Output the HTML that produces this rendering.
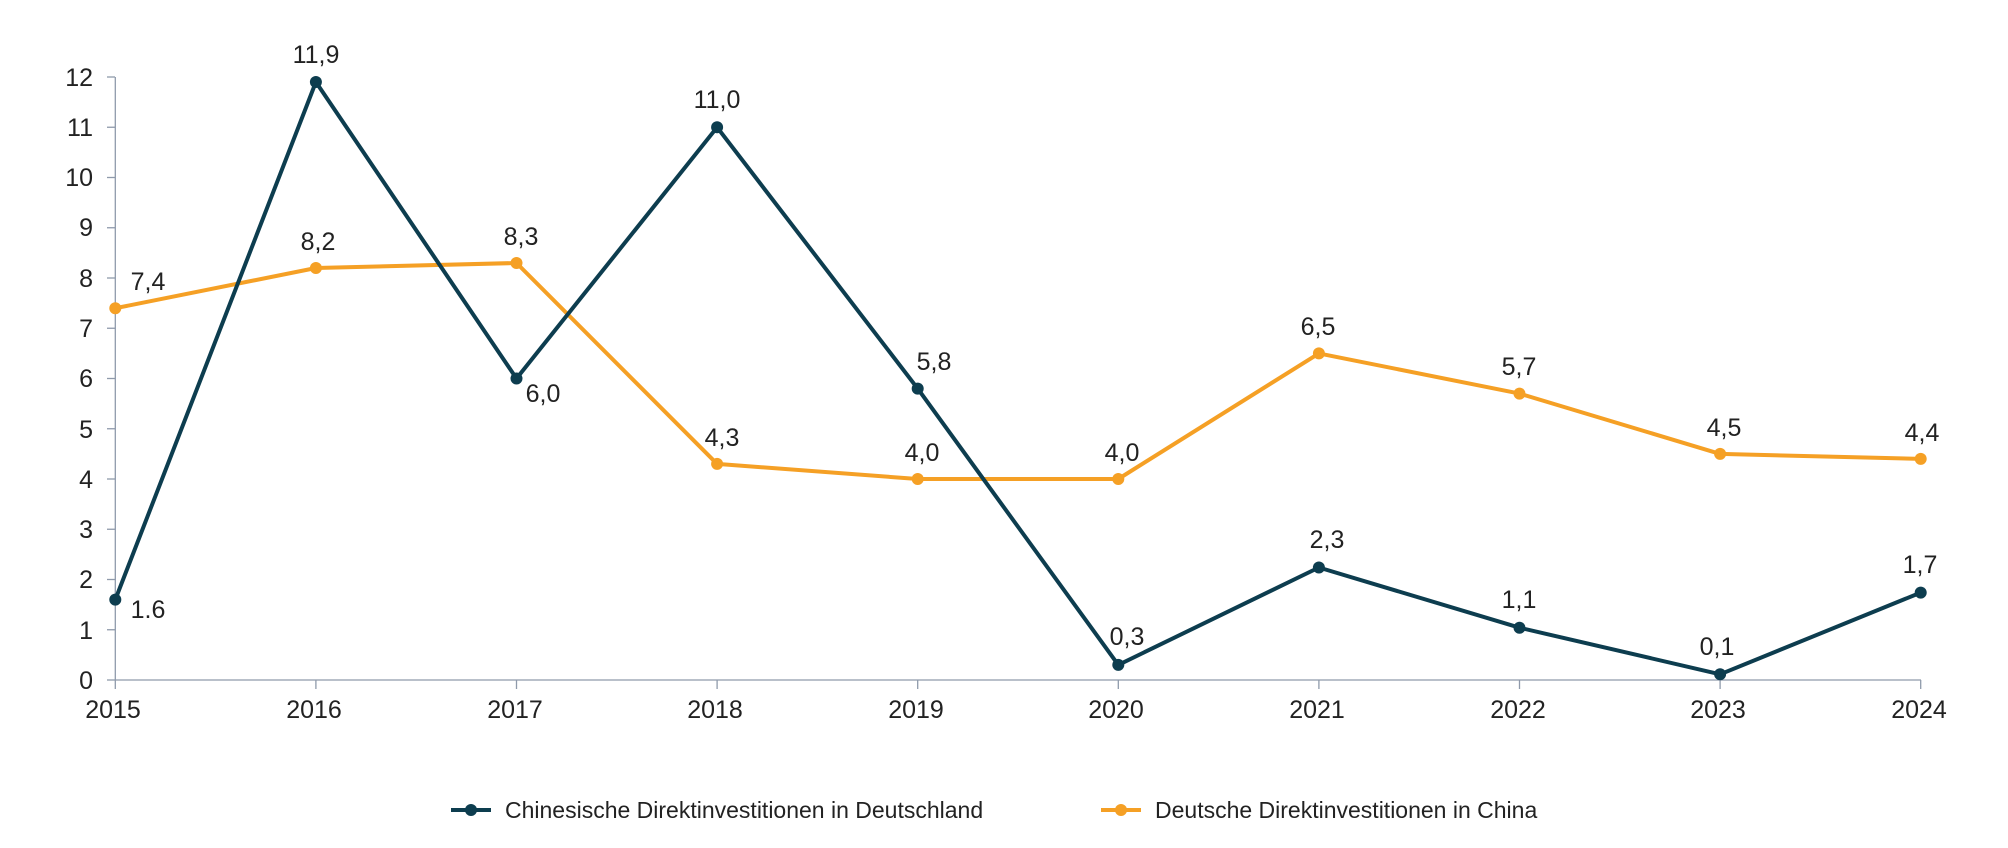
<!DOCTYPE html>
<html><head><style>body{margin:0;background:#fff}</style></head><body>
<svg width="2008" height="843" viewBox="0 0 2008 843" xmlns="http://www.w3.org/2000/svg" font-family="'Liberation Sans', sans-serif" fill="#222">
<g stroke="#8f9aab" stroke-width="1.3">
<line x1="115.3" y1="77" x2="115.3" y2="680"/>
<line x1="115.3" y1="680" x2="1921" y2="680"/>
<g id="yt"></g>
</g>
<g stroke="#8f9aab" stroke-width="1.3">
<line x1="107" y1="680" x2="115" y2="680"/><line x1="107" y1="629.75" x2="115" y2="629.75"/><line x1="107" y1="579.5" x2="115" y2="579.5"/><line x1="107" y1="529.25" x2="115" y2="529.25"/><line x1="107" y1="479" x2="115" y2="479"/><line x1="107" y1="428.75" x2="115" y2="428.75"/><line x1="107" y1="378.5" x2="115" y2="378.5"/><line x1="107" y1="328.25" x2="115" y2="328.25"/><line x1="107" y1="278" x2="115" y2="278"/><line x1="107" y1="227.75" x2="115" y2="227.75"/><line x1="107" y1="177.5" x2="115" y2="177.5"/><line x1="107" y1="127.25" x2="115" y2="127.25"/><line x1="107" y1="77" x2="115" y2="77"/>
<line x1="115.3" y1="680" x2="115.3" y2="689"/><line x1="315.9" y1="680" x2="315.9" y2="689"/><line x1="516.5" y1="680" x2="516.5" y2="689"/><line x1="717.1" y1="680" x2="717.1" y2="689"/><line x1="917.7" y1="680" x2="917.7" y2="689"/><line x1="1118.3" y1="680" x2="1118.3" y2="689"/><line x1="1318.9" y1="680" x2="1318.9" y2="689"/><line x1="1519.5" y1="680" x2="1519.5" y2="689"/><line x1="1720.1" y1="680" x2="1720.1" y2="689"/><line x1="1920.7" y1="680" x2="1920.7" y2="689"/>
</g>
<g font-size="25" text-anchor="end">
<text x="93" y="689">0</text><text x="93" y="639">1</text><text x="93" y="588">2</text><text x="93" y="538">3</text><text x="93" y="488">4</text><text x="93" y="438">5</text><text x="93" y="387">6</text><text x="93" y="337">7</text><text x="93" y="287">8</text><text x="93" y="236">9</text><text x="93" y="186">10</text><text x="93" y="136">11</text><text x="93" y="86">12</text>
</g>
<g font-size="25" text-anchor="middle">
<text x="113" y="718">2015</text><text x="314" y="718">2016</text><text x="515" y="718">2017</text><text x="715" y="718">2018</text><text x="916" y="718">2019</text><text x="1116" y="718">2020</text><text x="1317" y="718">2021</text><text x="1518" y="718">2022</text><text x="1718" y="718">2023</text><text x="1919" y="718">2024</text>
</g>
<polyline fill="none" stroke="#f5a025" stroke-width="4" stroke-linejoin="round" points="115.3,308.2 315.9,268 516.5,263 717.1,463.9 917.7,479 1118.3,479 1318.9,353.4 1519.5,393.6 1720.1,453.9 1920.7,458.9"/>
<g fill="#f5a025">
<circle cx="115.3" cy="308.2" r="6"/><circle cx="315.9" cy="268" r="6"/><circle cx="516.5" cy="263" r="6"/><circle cx="717.1" cy="463.9" r="6"/><circle cx="917.7" cy="479" r="6"/><circle cx="1118.3" cy="479" r="6"/><circle cx="1318.9" cy="353.4" r="6"/><circle cx="1519.5" cy="393.6" r="6"/><circle cx="1720.1" cy="453.9" r="6"/><circle cx="1920.7" cy="458.9" r="6"/>
</g>
<polyline fill="none" stroke="#0d3d4f" stroke-width="4" stroke-linejoin="round" points="115.3,599.6 315.9,82 516.5,378.5 717.1,127.3 917.7,388.6 1118.3,664.9 1318.9,567.5 1519.5,627.7 1720.1,674.3 1920.7,592.6"/>
<g fill="#0d3d4f">
<circle cx="115.3" cy="599.6" r="6"/><circle cx="315.9" cy="82" r="6"/><circle cx="516.5" cy="378.5" r="6"/><circle cx="717.1" cy="127.3" r="6"/><circle cx="917.7" cy="388.6" r="6"/><circle cx="1118.3" cy="664.9" r="6"/><circle cx="1318.9" cy="567.5" r="6"/><circle cx="1519.5" cy="627.7" r="6"/><circle cx="1720.1" cy="674.3" r="6"/><circle cx="1920.7" cy="592.6" r="6"/>
</g>
<g font-size="25" text-anchor="middle">
<text x="148" y="618">1.6</text><text x="316" y="63">11,9</text><text x="543" y="402">6,0</text><text x="717" y="108">11,0</text><text x="934" y="370">5,8</text><text x="1127" y="645">0,3</text><text x="1327" y="548">2,3</text><text x="1519" y="608">1,1</text><text x="1717" y="655">0,1</text><text x="1920" y="573">1,7</text>
<text x="148" y="290">7,4</text><text x="318" y="250">8,2</text><text x="521" y="245">8,3</text><text x="722" y="446">4,3</text><text x="922" y="461">4,0</text><text x="1122" y="461">4,0</text><text x="1318" y="335">6,5</text><text x="1519" y="375">5,7</text><text x="1724" y="436">4,5</text><text x="1922" y="441">4,4</text>
</g>
<line x1="451" y1="810" x2="491" y2="810" stroke="#0d3d4f" stroke-width="4"/><circle cx="471" cy="810" r="6" fill="#0d3d4f"/>
<text x="505" y="818" font-size="23">Chinesische Direktinvestitionen in Deutschland</text>
<line x1="1101" y1="810" x2="1141" y2="810" stroke="#f5a025" stroke-width="4"/><circle cx="1121" cy="810" r="6" fill="#f5a025"/>
<text x="1155" y="818" font-size="23">Deutsche Direktinvestitionen in China</text>
</svg>
</body></html>
